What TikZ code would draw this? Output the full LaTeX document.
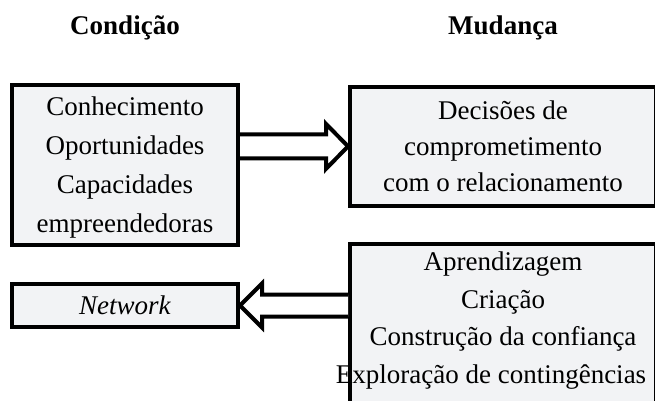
\documentclass[tikz,border=0pt]{standalone}
\usepackage{fontspec}
\setmainfont{Liberation Serif}
\usetikzlibrary{calc}
\definecolor{boxgray}{HTML}{F2F3F5}

\begin{document}
\begin{tikzpicture}[x=1pt,y=-1pt,
        every node/.style={font=\fontsize{27}{37.5}\selectfont},
        title/.style={font=\fontsize{27}{37.5}\selectfont\bfseries},
        box/.style={draw, line width=4pt, fill=boxgray, align=center, inner sep=0pt},
        fatarrow/.style={draw, line width=4pt, fill=white, line join=miter}
    ]
    \clip (0,0) rectangle (655,400);
    % titles
    \node[title] (tcond) at (125,28) {Condição};
    \node[title] (tmud) at (503,28) {Mudança};
    % boxes
    \node[box, minimum width=226, anchor=north, inner ysep=12pt, text depth=0pt,
        font=\fontsize{27}{39}\selectfont] (cond) at (125,83)
        {Conhecimento\\Oportunidades\\Capacidades\\empreendedoras};
    \node[box, minimum width=306, anchor=north, inner ysep=14pt, text depth=0pt,
        font=\fontsize{27}{36}\selectfont] (dec) at (503,85)
        {Decisões de\\comprometimento\\com o relacionamento};
    \node[box, minimum width=226, minimum height=43] (net) at (125,305.5)
        {\textit{Network}};
    \node[box, minimum width=306, anchor=north, inner ysep=8pt, text depth=40pt] (apr) at (503,242)
        {Aprendizagem\\Criação\\Construção da confiança\\\makebox[0pt]{\kern-24pt Exploração de contingências}};
    % arrows
    \coordinate (p) at (cond.east |- dec.west);
    \draw[fatarrow] ($(p)+(0,-12)$) -- ($(dec.west)+(-22,-12)$) -- ($(dec.west)+(-22,-22.5)$)
        -- (dec.west) -- ($(dec.west)+(-22,22.5)$) -- ($(dec.west)+(-22,12)$) -- ($(p)+(0,12)$);
    \coordinate (q) at (apr.west |- net.east);
    \draw[fatarrow] ($(q)+(0,-11)$) -- ($(net.east)+(22,-11)$) -- ($(net.east)+(22,-22)$)
        -- (net.east) -- ($(net.east)+(22,22)$) -- ($(net.east)+(22,11)$) -- ($(q)+(0,11)$);
\end{tikzpicture}
\end{document}
